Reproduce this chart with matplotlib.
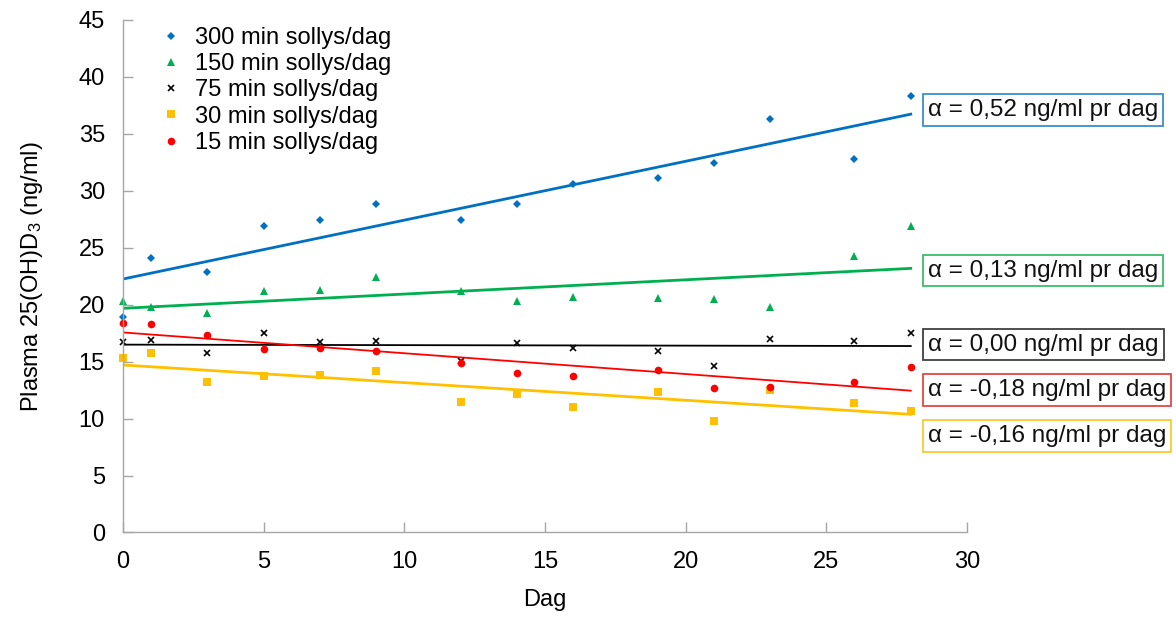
import numpy as np
import matplotlib
matplotlib.use("Agg")
import matplotlib.pyplot as plt

# ==================================
# DATA
# ==================================
days = [0, 1, 3, 5, 7, 9, 12, 14, 16, 19, 21, 23, 26, 28]

min300 = [18.9, 24.1, 22.9, 26.9, 27.4, 28.8, 27.4, 28.8, 30.6, 31.1, 32.4, 36.3, 32.8, 38.3]
min150 = [20.3, 19.8, 19.3, 21.2, 21.3, 22.4, 21.2, 20.3, 20.7, 20.6, 20.5, 19.8, 24.3, 26.9]
min75 = [16.7, 16.9, 15.8, 17.5, 16.7, 16.8, 15.1, 16.6, 16.2, 15.9, 14.6, 17.0, 16.8, 17.5]
min30 = [15.3, 15.8, 13.2, 13.7, 13.8, 14.2, 11.5, 12.2, 11.0, 12.3, 9.8, 12.5, 11.4, 10.7]
min15 = [18.4, 18.3, 17.3, 16.1, 16.2, 15.9, 14.9, 14.0, 13.7, 14.3, 12.7, 12.8, 13.2, 14.5]

labels = ["300 min sollys/dag", "150 min sollys/dag", "75 min sollys/dag",
          "30 min sollys/dag", "15 min sollys/dag"]
slope_text = ["α = 0,52 ng/ml pr dag", "α = 0,13 ng/ml pr dag", "α = 0,00 ng/ml pr dag",
              "α = -0,18 ng/ml pr dag", "α = -0,16 ng/ml pr dag"]

# ==================================
# STYLE
# ==================================
plt.rcParams["font.family"] = ["Liberation Sans", "DejaVu Sans"]
plt.rcParams["mathtext.fontset"] = "custom"
plt.rcParams["mathtext.rm"] = "Liberation Sans"
plt.rcParams["mathtext.it"] = "Liberation Sans:italic"

# order: 300, 150, 75, 30, 15
series = [min300, min150, min75, min30, min15]
line_cols = ["#0070C0", "#00B050", "#000000", "#FFC000", "#FF0000"]
markers = ["D", "^", "x", "s", "o"]
msizes = [4, 6, 5, 5.5, 5.5]
lws = [2, 2, 1.3, 2, 1.3]

# boxes: 0.52, 0.13, 0.00, -0.18, -0.16
box_cols = ["#3B8FD0", "#3DBE6A", "#404040", "#E04848", "#F7CB30"]
box_y = [37.1, 23.0, 16.5, 12.5, 8.5]

fig = plt.figure(figsize=(11.76, 6.17), dpi=100)
ax = fig.add_axes([0.1046, 0.137, 0.7177, 0.8306])

for vals, c, m, ms, lw, lab in zip(series, line_cols, markers, msizes, lws, labels):
    ax.plot(days, vals, linestyle="none", marker=m, color=c, markersize=ms,
            markeredgewidth=1.2 if m == "x" else 0, label=lab, clip_on=False)
    k, b = np.polyfit(days, vals, 1)
    xs = np.array([days[0], days[-1]])
    ax.plot(xs, k * xs + b, color=c, linewidth=lw)

for txt, ec, yy in zip(slope_text, box_cols, box_y):
    ax.text(28.62, yy, txt, fontsize=17.5, color="#111111", va="center", ha="left",
            clip_on=False,
            bbox=dict(boxstyle="square,pad=0.2", facecolor="white", edgecolor=ec, linewidth=1.3))

ax.set_xlim(0, 30)
ax.set_ylim(0, 45)
ax.set_xticks(range(0, 31, 5))
ax.set_yticks(range(0, 46, 5))

for s in ["top", "right"]:
    ax.spines[s].set_visible(False)
for s in ["left", "bottom"]:
    ax.spines[s].set_color("#A6A6A6")
    ax.spines[s].set_linewidth(1)

ax.tick_params(direction="in", length=7, width=1, color="#A6A6A6", labelsize=17, pad=13)

ax.set_xlabel("Dag", fontsize=17, labelpad=12)
ax.set_ylabel("Plasma 25(OH)D$_3$ (ng/ml)", fontsize=17, labelpad=24)

leg = ax.legend(loc="upper left", bbox_to_anchor=(0.035, 1.005), frameon=False, fontsize=17,
                handlelength=0.8, handletextpad=0.6, labelspacing=0.18, borderaxespad=0)

fig.savefig("out.png", dpi=100)
